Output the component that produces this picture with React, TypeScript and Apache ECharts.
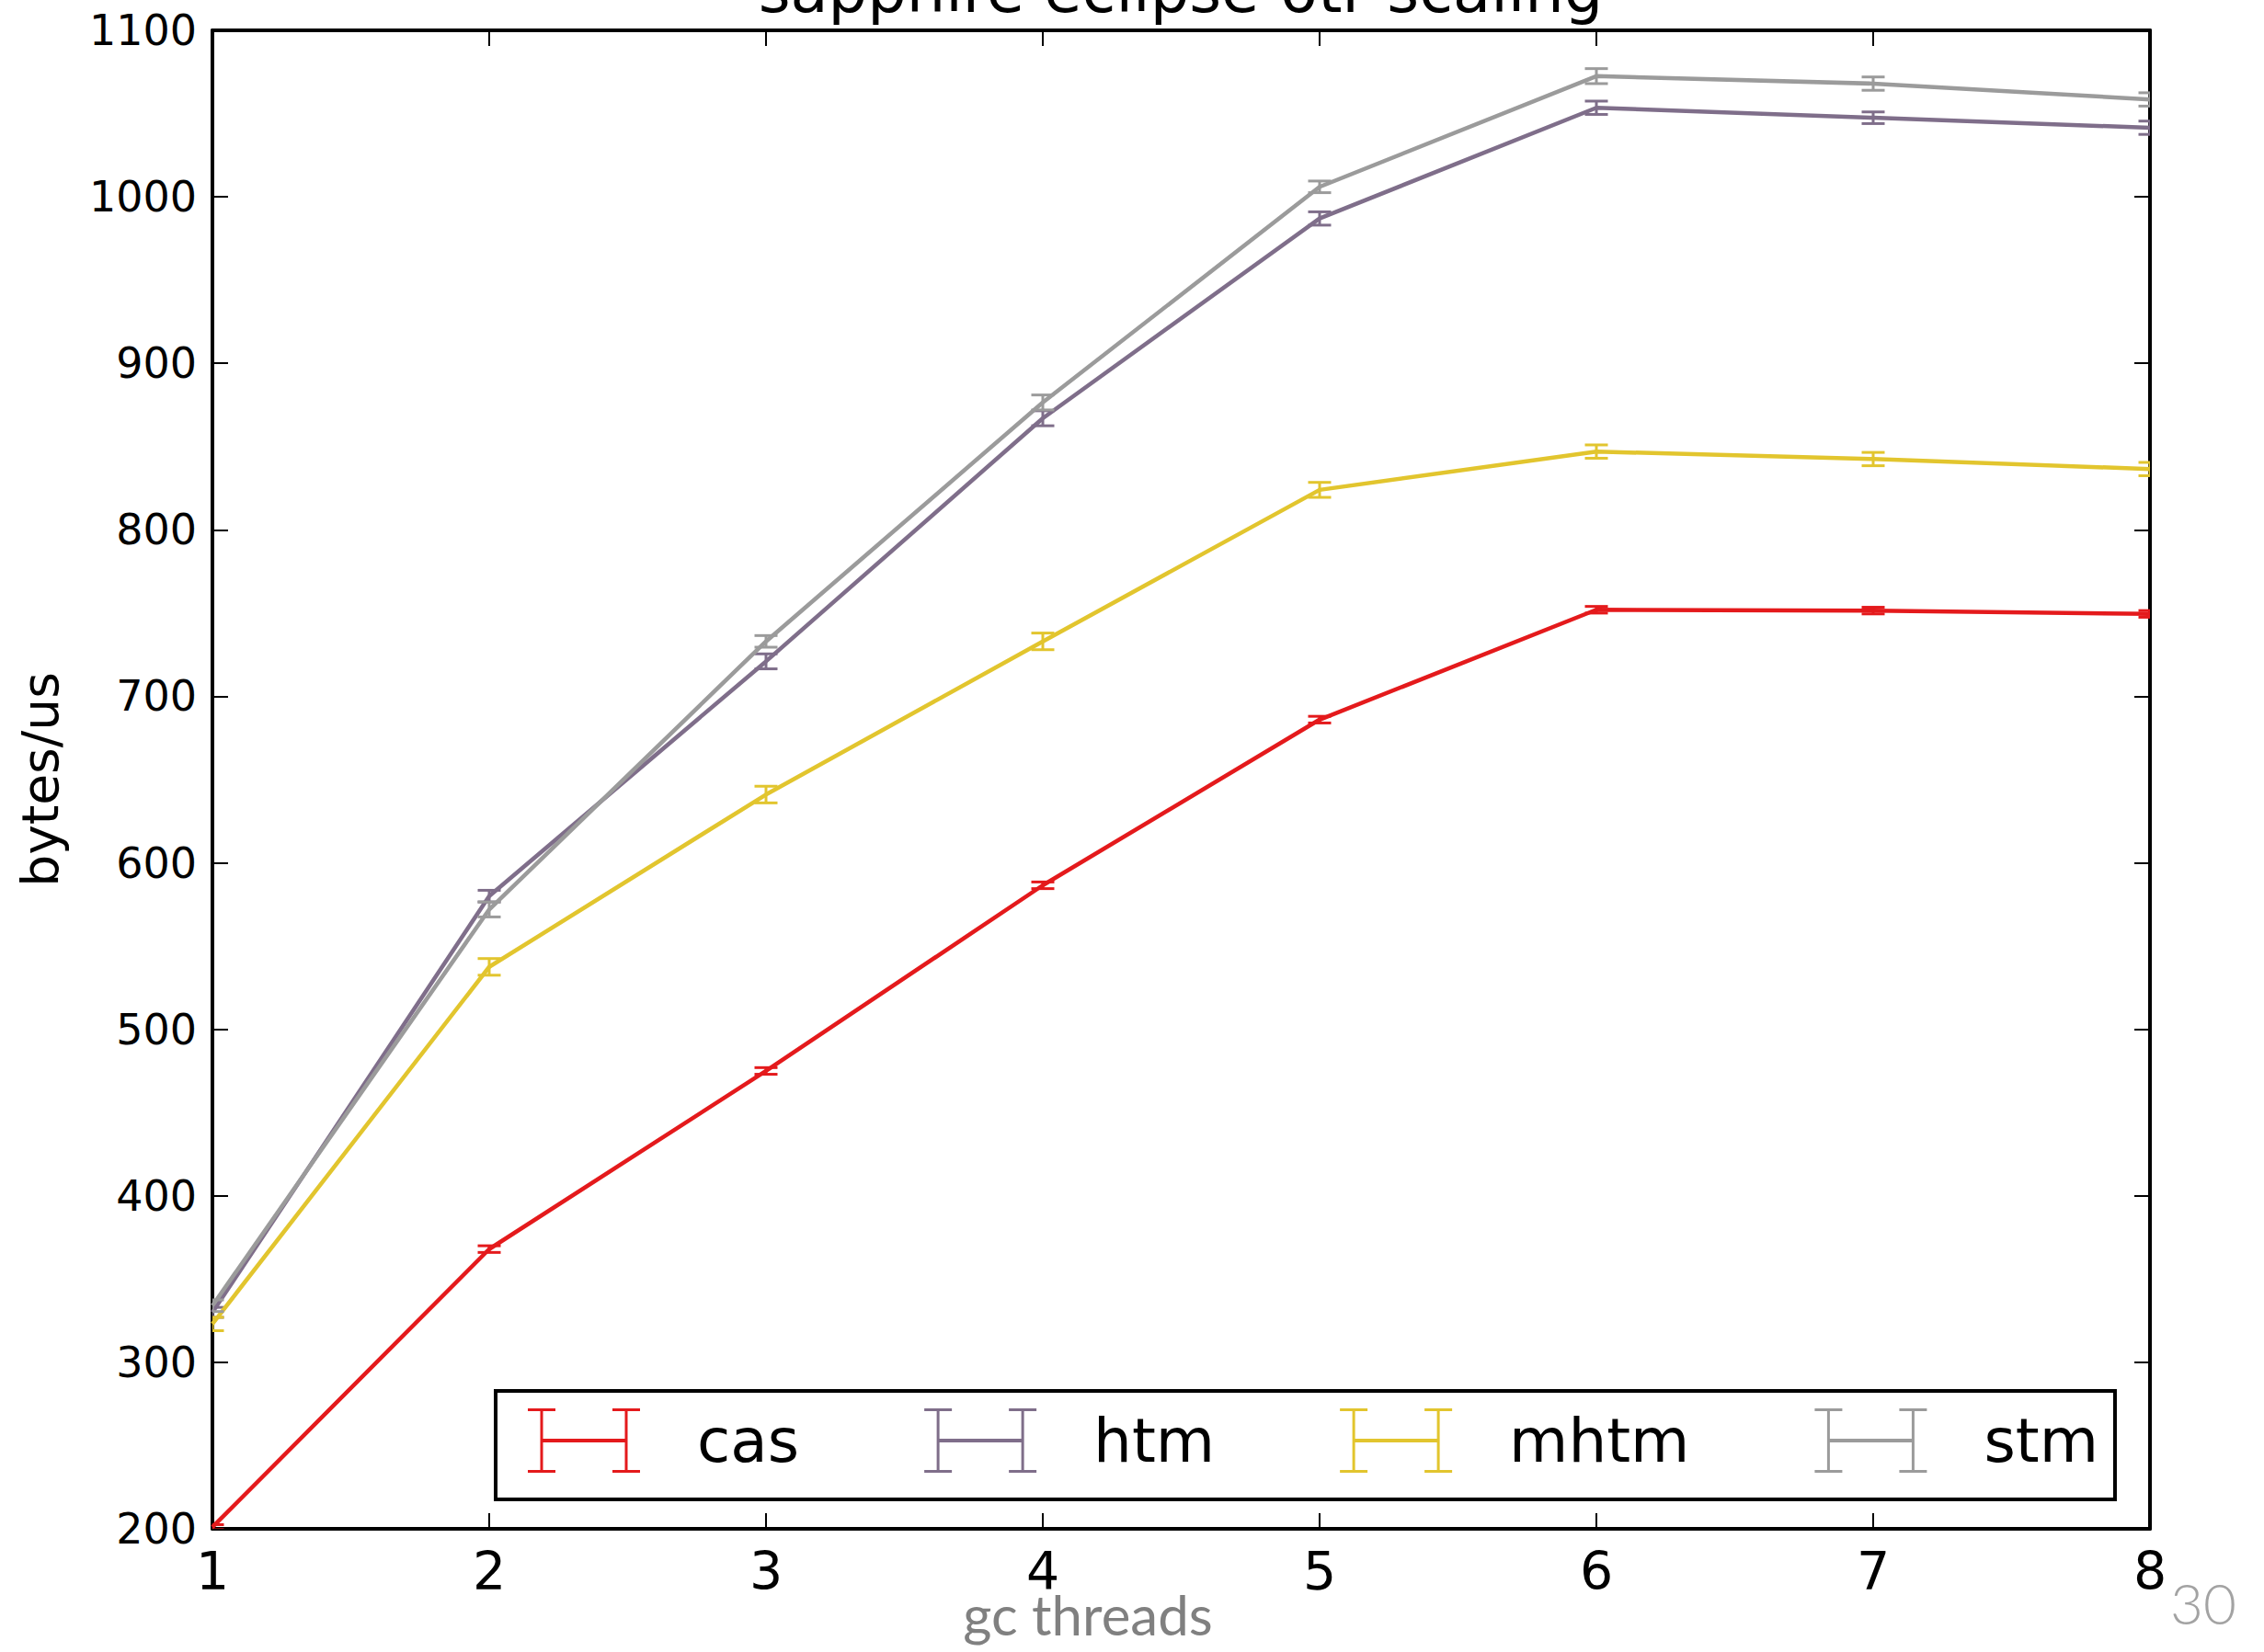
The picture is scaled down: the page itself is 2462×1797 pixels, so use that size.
import React, { useEffect, useRef } from "react";
import * as echarts from "echarts";

// ---- data ----
const threads = [1, 2, 3, 4, 5, 6, 7, 8];
const seriesNames = ["cas", "htm", "mhtm", "stm"];
const casValues = [201, 368, 475, 586.5, 686, 752, 751.5, 749.5];
const htmValues = [330, 580, 721, 867, 987, 1053.5, 1047.5, 1041.5];
const mhtmValues = [323, 537.5, 641, 733, 824, 847, 842.5, 836.5];
const stmValues = [334, 572, 733, 876.5, 1006, 1072.5, 1068, 1058.5];
const casErr = [1.5, 2, 2, 2, 2, 2, 2, 2];
const htmErr = [3, 3.5, 4.5, 4.5, 4, 4, 3.5, 4];
const mhtmErr = [4, 5, 5, 5, 4.5, 4, 4, 4];
const stmErr = [3.5, 4.5, 3.5, 4.5, 3.5, 4.5, 4, 4];
const yMin = 200;
const yMax = 1100;
const yStep = 100;
const xMin = 1;
const xMax = 8;
const titleText = "sapphire eclipse 6tr scaling";
const yName = "bytes/us";
const xName = "gc threads";
const pageNumber = "30";

const colors = ["#e41a1c", "#7f6e8a", "#e2c52e", "#9b9b9b"];
const allValues = [casValues, htmValues, mhtmValues, stmValues];
const allErrs = [casErr, htmErr, mhtmErr, stmErr];

const legendIcon =
  "path://M0,0 H30 V3 H16.5 V33 H105.5 V3 H92 V0 H122 V3 H108.5 V67 H122 V70 H92 V67 H105.5 V37 H16.5 V67 H30 V70 H0 V67 H13.5 V3 H0 Z";

const FONT = "DejaVu Sans";

export default function App() {
  const ref = useRef<HTMLDivElement>(null);
  useEffect(() => {
    if (!ref.current) return;
    const chart = echarts.init(ref.current, undefined, { renderer: "svg" });

    const lineSeries = seriesNames.map((n, i) => ({
      name: n,
      type: "line",
      data: threads.map((t, j) => [t, allValues[i][j]]),
      symbol: "none",
      lineStyle: { color: colors[i], width: 4.5 },
      itemStyle: { color: colors[i] },
      clip: true,
      z: 3 + i,
    }));

    const errSeries = seriesNames.map((n, i) => ({
      name: n + " err",
      type: "custom",
      clip: true,
      z: 3 + i,
      data: threads.map((t, j) => [t, allValues[i][j], allErrs[i][j]]),
      encode: { x: 0, y: 1 },
      renderItem: (params: any, api: any) => {
        const x = api.value(0);
        const y = api.value(1);
        const e = api.value(2);
        const top = api.coord([x, y + e]);
        const bot = api.coord([x, y - e]);
        const hw = 12.5;
        const st = { stroke: colors[i], lineWidth: 3 };
        return {
          type: "group",
          children: [
            { type: "line", shape: { x1: top[0], y1: top[1], x2: bot[0], y2: bot[1] }, style: st },
            { type: "line", shape: { x1: top[0] - hw, y1: top[1], x2: top[0] + hw, y2: top[1] }, style: st },
            { type: "line", shape: { x1: bot[0] - hw, y1: bot[1], x2: bot[0] + hw, y2: bot[1] }, style: st },
          ],
        };
      },
    }));

    const frameLine = { show: true, lineStyle: { color: "#000", width: 4 } };
    const tickIn = { show: true, inside: true, length: 17, lineStyle: { color: "#000", width: 2 } };

    chart.setOption({
      animation: false,
      backgroundColor: "#fff",
      title: {
        text: titleText,
        left: 1284,
        textAlign: "center",
        top: -44,
        padding: 0,
        textStyle: { fontFamily: FONT, fontSize: 67, fontWeight: "normal", color: "#000" },
      },
      grid: { left: 231, right: 124, top: 33, bottom: 134, containLabel: false },
      xAxis: [
        {
          type: "value",
          min: xMin,
          max: xMax,
          interval: 1,
          position: "bottom",
          axisLine: frameLine,
          axisTick: tickIn,
          splitLine: { show: false },
          axisLabel: { fontFamily: FONT, fontSize: 57, color: "#000", margin: 17 },
        },
        {
          type: "value",
          min: xMin,
          max: xMax,
          interval: 1,
          position: "top",
          axisLine: frameLine,
          axisTick: tickIn,
          splitLine: { show: false },
          axisLabel: { show: false },
        },
      ],
      yAxis: [
        {
          type: "value",
          min: yMin,
          max: yMax,
          interval: yStep,
          position: "left",
          axisLine: frameLine,
          axisTick: tickIn,
          splitLine: { show: false },
          axisLabel: {
            fontFamily: FONT,
            fontSize: 46,
            color: "#000",
            margin: 17,
            formatter: (v: number) => String(v),
          },
          name: yName,
          nameLocation: "middle",
          nameGap: 160,
          nameTextStyle: { fontFamily: FONT, fontSize: 55, color: "#000" },
        },
        {
          type: "value",
          min: yMin,
          max: yMax,
          interval: yStep,
          position: "right",
          axisLine: frameLine,
          axisTick: tickIn,
          splitLine: { show: false },
          axisLabel: { show: false },
        },
      ],
      legend: {
        data: seriesNames,
        left: 539,
        top: 1513,
        orient: "horizontal",
        icon: legendIcon,
        itemWidth: 122,
        itemHeight: 70,
        itemGap: 136,
        padding: [19, 18, 29, 35],
        borderColor: "#000",
        borderWidth: 4,
        borderRadius: 0,
        backgroundColor: "#fff",
        itemStyle: { borderWidth: 0 },
        textStyle: { fontFamily: FONT, fontSize: 66, color: "#000", padding: [0, 0, 0, 57] },
        selectedMode: false,
      },
      graphic: [
        {
          type: "text",
          x: 1183,
          y: 1756,
          style: {
            text: xName,
            fill: "#808080",
            font: "400 60px Lato",
            align: "center",
            verticalAlign: "middle",
            textAlign: "center",
            textVerticalAlign: "middle",
          },
        },
        {
          type: "text",
          x: 2396,
          y: 1743,
          style: {
            text: pageNumber,
            fill: "#a3a3a3",
            font: "300 62px Lato",
            align: "center",
            verticalAlign: "middle",
            textAlign: "center",
            textVerticalAlign: "middle",
          },
        },
      ],
      series: [...lineSeries, ...errSeries],
    });
    return () => chart.dispose();
  }, []);
  return (
    <div
      ref={ref}
      style={{ position: "fixed", left: 0, top: 0, width: "2462px", height: "1797px" }}
    />
  );
}
